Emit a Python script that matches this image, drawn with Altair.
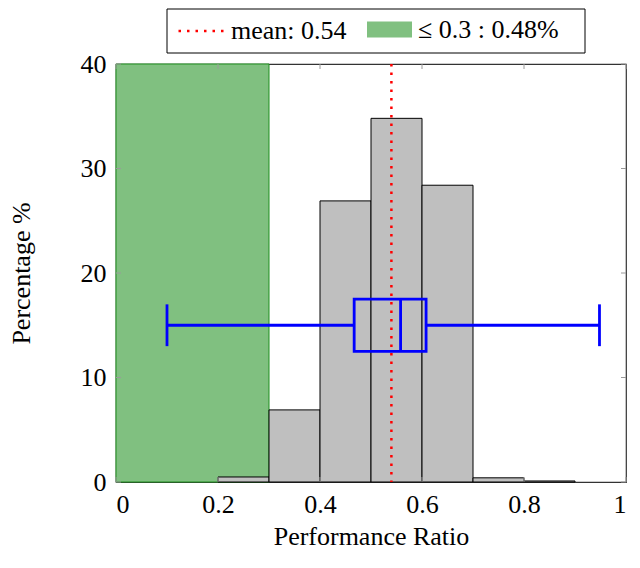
import altair as alt
import pandas as pd

# ---- data ----
bin_start = [0.2, 0.3, 0.4, 0.5, 0.6, 0.7, 0.8]
bin_end = [0.3, 0.4, 0.5, 0.6, 0.7, 0.8, 0.9]
percent = [0.48, 6.9, 26.9, 34.8, 28.4, 0.4, 0.1]

mean_value = 0.54
threshold = 0.3
threshold_share = 0.48

box_lo = 0.1
box_q1 = 0.467
box_median = 0.558
box_q3 = 0.608
box_hi = 0.948
box_y_center = 15
box_y_low = 12.5
box_y_high = 17.5
cap_y_low = 13
cap_y_high = 17

x_ticks = [0, 0.2, 0.4, 0.6, 0.8, 1.0]
y_ticks = [0, 10, 20, 30, 40]

mean_label = f"mean: {mean_value}"
thr_label = f"\u2264 {threshold} : {threshold_share}%"

FONT = "Liberation Serif"
FS = 26
W, H = 510, 418

hist = pd.DataFrame({"start": bin_start, "end": bin_end, "pct": percent})
green = pd.DataFrame({"x": [0.0], "x2": [threshold], "y": [0], "y2": [40], "lab": [thr_label]})
meandf = pd.DataFrame({"x": [mean_value], "lab": [mean_label]})
boxdf = pd.DataFrame({"lo": [box_lo], "q1": [box_q1], "med": [box_median], "q3": [box_q3],
                      "hi": [box_hi], "yc": [box_y_center], "yl": [box_y_low], "yh": [box_y_high],
                      "cl": [cap_y_low], "ch": [cap_y_high]})
xt = pd.DataFrame({"v": x_ticks})
yt = pd.DataFrame({"v": y_ticks})
one = pd.DataFrame({"k": [0]})

xs = alt.Scale(domain=[0, 1], nice=False, zero=False)
ys = alt.Scale(domain=[0, 40], nice=False, zero=False)

common_leg = dict(title=None, orient="none", direction="horizontal", padding=0,
                  labelFont=FONT, labelFontSize=FS, labelColor="black", labelOffset=6,
                  labelLimit=0, symbolSize=2025, zindex=2)

mean_legend = alt.Legend(legendX=61, legendY=-57, symbolType="stroke",
                         symbolDash=[2.5, 6], symbolStrokeWidth=2.5, **common_leg)
thr_legend = alt.Legend(legendX=251, legendY=-57,
                        symbolType="M-1,-0.356H1V0.356H-1Z", symbolStrokeWidth=0,
                        **common_leg)

x_axis = alt.Axis(title="Performance Ratio", values=x_ticks, format="~g", domain=False,
                  ticks=False, grid=False, labelFont=FONT, labelFontSize=FS,
                  labelColor="black", labelPadding=9, titleFont=FONT, titleFontSize=FS,
                  titleFontWeight="normal", titleColor="black", titlePadding=6)
y_axis = alt.Axis(title="Percentage %", values=y_ticks, domain=False, ticks=False,
                  grid=False, labelFont=FONT, labelFontSize=FS, labelColor="black",
                  labelPadding=10, titleFont=FONT, titleFontSize=FS,
                  titleFontWeight="normal", titleColor="black", titlePadding=46)


def X(f):
    return alt.X(f, scale=xs, axis=x_axis)


def Y(f):
    return alt.Y(f, scale=ys, axis=y_axis)


green_layer = alt.Chart(green).mark_rect(stroke="#1f8f1f", strokeWidth=1).encode(
    x=X("x:Q"), x2="x2:Q", y=Y("y:Q"), y2="y2:Q",
    fill=alt.Fill("lab:N", scale=alt.Scale(domain=[thr_label], range=["#80C080"]),
                  legend=thr_legend),
)

hist_layer = alt.Chart(hist).mark_rect(fill="#bfbfbf", stroke="black", strokeWidth=1).encode(
    x=X("start:Q"), x2="end:Q", y=Y("pct:Q"), y2=alt.datum(0),
)

BLUE = "#0000ff"
BW = 2.8
box_rect = alt.Chart(boxdf).mark_rect(fill="transparent", stroke=BLUE, strokeWidth=BW).encode(
    x=X("q1:Q"), x2="q3:Q", y=Y("yl:Q"), y2="yh:Q")
box_med = alt.Chart(boxdf).mark_rule(color=BLUE, strokeWidth=BW).encode(
    x=X("med:Q"), y=Y("yl:Q"), y2="yh:Q")
whisk_l = alt.Chart(boxdf).mark_rule(color=BLUE, strokeWidth=BW).encode(
    x=X("lo:Q"), x2="q1:Q", y=Y("yc:Q"))
whisk_r = alt.Chart(boxdf).mark_rule(color=BLUE, strokeWidth=BW).encode(
    x=X("q3:Q"), x2="hi:Q", y=Y("yc:Q"))
cap_l = alt.Chart(boxdf).mark_rule(color=BLUE, strokeWidth=BW).encode(
    x=X("lo:Q"), y=Y("cl:Q"), y2="ch:Q")
cap_r = alt.Chart(boxdf).mark_rule(color=BLUE, strokeWidth=BW).encode(
    x=X("hi:Q"), y=Y("cl:Q"), y2="ch:Q")

mean_layer = alt.Chart(meandf).mark_rule(strokeWidth=2.5, strokeDash=[2.5, 6]).encode(
    x=X("x:Q"),
    stroke=alt.Stroke("lab:N", scale=alt.Scale(domain=[mean_label], range=["red"]),
                      legend=mean_legend),
)

TICK = "#9a9a9a"
xt_bottom = alt.Chart(xt).mark_rule(color=TICK, strokeWidth=1).encode(
    x=X("v:Q"), y=alt.value(H), y2=alt.value(H - 5))
xt_top = alt.Chart(xt).mark_rule(color=TICK, strokeWidth=1).encode(
    x=X("v:Q"), y=alt.value(0), y2=alt.value(5))
yt_left = alt.Chart(yt).mark_rule(color=TICK, strokeWidth=1).encode(
    y=Y("v:Q"), x=alt.value(0), x2=alt.value(5))
yt_right = alt.Chart(yt).mark_rule(color=TICK, strokeWidth=1).encode(
    y=Y("v:Q"), x=alt.value(W), x2=alt.value(W - 5))

# frame around the legend entries
legend_frame = alt.Chart(one).mark_rect(fill="white", stroke="black", strokeWidth=1).encode(
    x=alt.value(51), x2=alt.value(469), y=alt.value(-55), y2=alt.value(-11))

chart = alt.layer(
    green_layer, hist_layer, xt_bottom, xt_top, yt_left, yt_right,
    whisk_l, whisk_r, cap_l, cap_r, box_rect, box_med, mean_layer, legend_frame,
).properties(
    width=W, height=H,
    autosize=alt.AutoSizeParams(type="none"),
    padding={"left": 108, "top": 56, "right": 6, "bottom": 68},
).configure_view(stroke="#333333", strokeWidth=1.2)

chart.save("out.html", embed_options={"renderer": "svg", "actions": False})
